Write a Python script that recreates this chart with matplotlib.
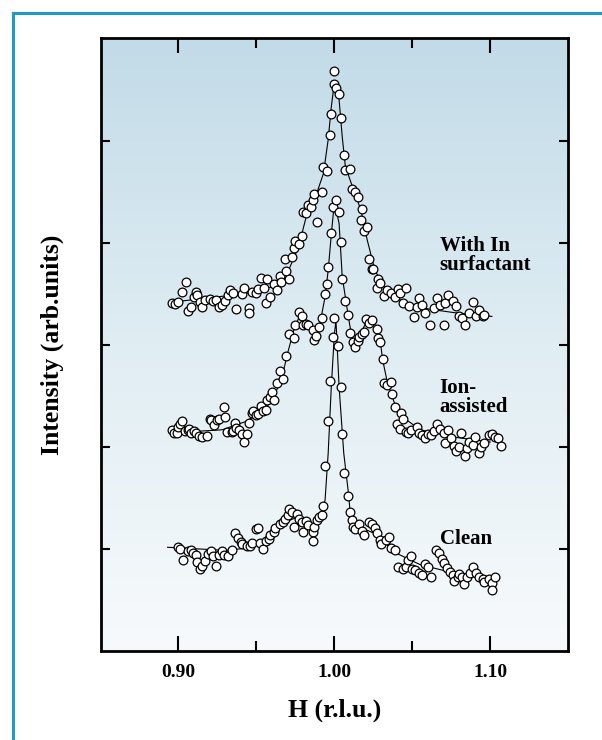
#!/usr/bin/env python
"""X-ray scan across H: open-circle data + fitted line for three growth conditions."""
import matplotlib
matplotlib.use("Agg")
import matplotlib.pyplot as plt
import numpy as np
from matplotlib.colors import LinearSegmentedColormap
from matplotlib.lines import Line2D

# (H, intensity), intensity in tick units (ticks at 1..5)
with_in = [
    (0.896, 3.41), (0.898, 3.40), (0.900, 3.42), (0.902, 3.52), (0.905, 3.62), (0.906, 3.33),
    (0.908, 3.37), (0.910, 3.47), (0.911, 3.52), (0.912, 3.49), (0.914, 3.42), (0.915, 3.37),
    (0.917, 3.44), (0.920, 3.45), (0.922, 3.43), (0.924, 3.44), (0.926, 3.37), (0.928, 3.39),
    (0.930, 3.43), (0.932, 3.49), (0.933, 3.54), (0.935, 3.51), (0.937, 3.35), (0.941, 3.50),
    (0.942, 3.56), (0.945, 3.36), (0.945, 3.31), (0.947, 3.52), (0.950, 3.51), (0.951, 3.55),
    (0.953, 3.66), (0.955, 3.56), (0.956, 3.41), (0.957, 3.65), (0.959, 3.47), (0.961, 3.60),
    (0.963, 3.54), (0.965, 3.68), (0.966, 3.62), (0.968, 3.84), (0.969, 3.72), (0.971, 3.65),
    (0.973, 3.86), (0.974, 3.95), (0.975, 4.02), (0.977, 3.99), (0.979, 4.07), (0.980, 4.30),
    (0.982, 4.29), (0.983, 4.37), (0.985, 4.35), (0.986, 4.42), (0.987, 4.48), (0.989, 4.20),
    (0.992, 4.50), (0.993, 4.74), (0.995, 4.70), (0.997, 5.06), (0.998, 5.26), (1.000, 5.68),
    (1.000, 5.55), (1.001, 5.52), (1.003, 5.46), (1.004, 5.22), (1.006, 4.86), (1.007, 4.71),
    (1.010, 4.72), (1.011, 4.53), (1.013, 4.50), (1.015, 4.45), (1.017, 4.22), (1.018, 4.33),
    (1.019, 4.12), (1.021, 4.15), (1.022, 3.84), (1.024, 3.74), (1.025, 3.74), (1.027, 3.56),
    (1.028, 3.65), (1.029, 3.61), (1.032, 3.48), (1.034, 3.54), (1.036, 3.51), (1.039, 3.47),
    (1.041, 3.55), (1.042, 3.51), (1.044, 3.41), (1.046, 3.56), (1.048, 3.38), (1.051, 3.27),
    (1.053, 3.37), (1.054, 3.46), (1.056, 3.39), (1.058, 3.31), (1.061, 3.20), (1.064, 3.36),
    (1.066, 3.46), (1.068, 3.39), (1.070, 3.20), (1.071, 3.41), (1.073, 3.49), (1.076, 3.43),
    (1.078, 3.38), (1.080, 3.28), (1.082, 3.26), (1.084, 3.20), (1.086, 3.31), (1.089, 3.42),
    (1.091, 3.28), (1.093, 3.34), (1.095, 3.28), (1.096, 3.29),
]
with_in_fit = [
    (0.896, 3.42), (0.930, 3.48), (0.950, 3.52), (0.962, 3.58), (0.970, 3.71), (0.977, 3.96),
    (0.983, 4.32), (0.989, 4.50), (0.993, 4.68), (0.996, 5.01), (0.998, 5.33), (1.000, 5.57),
    (1.003, 5.40), (1.005, 5.04), (1.007, 4.75), (1.012, 4.53), (1.017, 4.32), (1.021, 4.03),
    (1.026, 3.73), (1.033, 3.54), (1.044, 3.42), (1.061, 3.35), (1.080, 3.31), (1.101, 3.28),
]

ion = [
    (0.896, 2.17), (0.897, 2.14), (0.899, 2.14), (0.900, 2.20), (0.901, 2.23), (0.902, 2.26),
    (0.904, 2.16), (0.906, 2.17), (0.907, 2.18), (0.908, 2.14), (0.910, 2.16), (0.911, 2.14),
    (0.913, 2.11), (0.915, 2.10), (0.918, 2.11), (0.920, 2.28), (0.921, 2.27), (0.923, 2.22),
    (0.925, 2.27), (0.926, 2.28), (0.929, 2.39), (0.930, 2.30), (0.931, 2.15), (0.934, 2.15),
    (0.935, 2.16), (0.936, 2.24), (0.937, 2.19), (0.939, 2.17), (0.941, 2.13), (0.942, 2.05),
    (0.944, 2.13), (0.945, 2.24), (0.947, 2.33), (0.948, 2.35), (0.950, 2.31), (0.951, 2.32),
    (0.953, 2.40), (0.954, 2.35), (0.956, 2.36), (0.957, 2.46), (0.959, 2.49), (0.960, 2.54),
    (0.961, 2.46), (0.963, 2.63), (0.965, 2.75), (0.967, 2.67), (0.969, 2.89), (0.971, 3.11),
    (0.974, 3.07), (0.975, 3.20), (0.977, 3.32), (0.979, 3.28), (0.980, 3.20), (0.982, 3.21),
    (0.983, 3.20), (0.986, 3.15), (0.987, 3.05), (0.988, 3.09), (0.990, 3.18), (0.992, 3.26),
    (0.994, 3.50), (0.995, 3.60), (0.996, 3.76), (0.998, 4.10), (0.999, 4.35), (1.001, 4.42),
    (1.003, 4.30), (1.004, 4.01), (1.005, 3.65), (1.007, 3.43), (1.009, 3.29), (1.010, 3.12),
    (1.012, 3.03), (1.013, 2.98), (1.015, 3.04), (1.016, 3.08), (1.018, 3.11), (1.019, 3.13),
    (1.020, 3.25), (1.022, 3.22), (1.024, 3.24), (1.027, 3.16), (1.028, 3.07), (1.029, 3.03),
    (1.031, 2.86), (1.032, 2.63), (1.034, 2.61), (1.036, 2.64), (1.037, 2.52), (1.039, 2.39),
    (1.040, 2.23), (1.042, 2.18), (1.043, 2.33), (1.044, 2.28), (1.046, 2.15), (1.047, 2.14),
    (1.049, 2.17), (1.053, 2.20), (1.054, 2.14), (1.056, 2.12), (1.058, 2.09), (1.060, 2.13),
    (1.062, 2.12), (1.064, 2.16), (1.066, 2.23), (1.068, 2.18), (1.070, 2.14), (1.071, 2.04),
    (1.073, 2.17), (1.075, 2.09), (1.077, 2.01), (1.078, 1.96), (1.080, 2.00), (1.081, 2.14),
    (1.084, 1.91), (1.085, 1.99), (1.086, 2.05), (1.089, 2.02), (1.090, 2.10), (1.093, 1.94),
    (1.094, 2.00), (1.096, 2.04), (1.099, 2.12), (1.101, 2.13), (1.103, 2.10), (1.105, 2.09),
    (1.107, 2.01),
]
ion_fit = [
    (0.896, 2.14), (0.928, 2.17), (0.943, 2.25), (0.954, 2.35), (0.960, 2.46), (0.966, 2.66),
    (0.970, 2.92), (0.974, 3.15), (0.977, 3.26), (0.982, 3.24), (0.986, 3.16), (0.989, 3.13),
    (0.991, 3.23), (0.994, 3.47), (0.996, 3.73), (0.998, 4.08), (1.000, 4.40), (1.003, 4.19),
    (1.005, 3.67), (1.008, 3.37), (1.010, 3.18), (1.012, 3.05), (1.014, 3.05), (1.018, 3.15),
    (1.021, 3.24), (1.025, 3.24), (1.029, 3.08), (1.031, 2.85), (1.034, 2.63), (1.039, 2.41),
    (1.046, 2.27), (1.055, 2.17), (1.076, 2.10), (1.100, 2.05),
]

clean = [
    (0.900, 1.02), (0.901, 1.00), (0.903, 0.90), (0.906, 0.98), (0.908, 0.99), (0.909, 0.96),
    (0.911, 0.94), (0.912, 0.88), (0.914, 0.81), (0.915, 0.84), (0.917, 0.89), (0.919, 0.95),
    (0.921, 0.98), (0.922, 0.93), (0.924, 0.84), (0.926, 0.94), (0.928, 0.98), (0.929, 0.94),
    (0.932, 0.93), (0.934, 0.99), (0.936, 1.16), (0.938, 1.11), (0.940, 1.07), (0.941, 1.05),
    (0.944, 1.03), (0.946, 1.03), (0.947, 1.06), (0.950, 1.20), (0.951, 1.21), (0.952, 1.06),
    (0.954, 1.00), (0.956, 1.08), (0.958, 1.10), (0.959, 1.14), (0.961, 1.17), (0.962, 1.21),
    (0.965, 1.25), (0.967, 1.27), (0.968, 1.30), (0.970, 1.34), (0.971, 1.39), (0.973, 1.37),
    (0.974, 1.22), (0.976, 1.35), (0.977, 1.30), (0.979, 1.27), (0.980, 1.17), (0.982, 1.28),
    (0.983, 1.24), (0.986, 1.17), (0.986, 1.08), (0.987, 1.22), (0.989, 1.29), (0.990, 1.32),
    (0.992, 1.34), (0.993, 1.42), (0.994, 1.82), (0.996, 2.26), (0.997, 2.65), (0.999, 3.08),
    (1.000, 3.26), (1.002, 2.99), (1.004, 2.59), (1.005, 2.13), (1.006, 1.75), (1.009, 1.52),
    (1.010, 1.37), (1.011, 1.29), (1.012, 1.22), (1.013, 1.20), (1.016, 1.25), (1.018, 1.18),
    (1.019, 1.14), (1.022, 1.27), (1.024, 1.25), (1.026, 1.21), (1.027, 1.16), (1.029, 1.09),
    (1.030, 1.05), (1.033, 1.09), (1.035, 1.12), (1.036, 1.01), (1.039, 0.99), (1.041, 0.83),
    (1.044, 0.81), (1.046, 0.83), (1.047, 0.90), (1.049, 0.93), (1.050, 0.81), (1.052, 0.80),
    (1.054, 0.77), (1.056, 0.75), (1.058, 0.86), (1.060, 0.83), (1.062, 0.73), (1.065, 0.99),
    (1.067, 0.96), (1.069, 0.91), (1.070, 0.87), (1.072, 0.82), (1.074, 0.78), (1.076, 0.75),
    (1.077, 0.69), (1.079, 0.73), (1.080, 0.76), (1.082, 0.73), (1.083, 0.66), (1.085, 0.73),
    (1.087, 0.77), (1.089, 0.83), (1.091, 0.77), (1.093, 0.73), (1.095, 0.71), (1.096, 0.68),
    (1.099, 0.71), (1.101, 0.67), (1.101, 0.60), (1.103, 0.73),
]
clean_fit = [
    (0.893, 1.02), (0.930, 0.99), (0.943, 1.01), (0.956, 1.09), (0.969, 1.27), (0.977, 1.32),
    (0.986, 1.25), (0.991, 1.32), (0.994, 1.48), (0.996, 1.94), (0.998, 2.59), (1.000, 3.11),
    (1.001, 3.24), (1.003, 2.59), (1.006, 1.94), (1.009, 1.55), (1.010, 1.38), (1.016, 1.22),
    (1.025, 1.16), (1.040, 0.96), (1.055, 0.85), (1.076, 0.77), (1.106, 0.72),
]

labels = ["With In\nsurfactant", "Ion-\nassisted", "Clean"]
label_pos = [(1.0675, 3.73), (1.0675, 2.34), (1.0675, 1.05)]

x_ticks = [0.90, 1.00, 1.10]
x_minor = [0.95, 1.05]
y_ticks = [1, 2, 3, 4, 5]


def main():
    plt.rcParams["font.family"] = ["Liberation Serif", "DejaVu Serif"]
    plt.rcParams["font.weight"] = "bold"

    fig = plt.figure(figsize=(6.02, 7.40), dpi=100)
    ax = fig.add_axes([0.167, 0.1196, 0.777, 0.8284])
    xlim, ylim = (0.85, 1.15), (0.0, 6.0)

    grad = LinearSegmentedColormap.from_list("bg", ["#f7fafc", "#e0edf3", "#c2dbe8"])
    ax.imshow(np.linspace(0, 1, 256)[:, None], cmap=grad, origin="lower", aspect="auto",
              extent=[xlim[0], xlim[1], ylim[0], ylim[1]], zorder=0)

    for pts, fit in ((with_in, with_in_fit), (ion, ion_fit), (clean, clean_fit)):
        fh, fi = zip(*fit)
        ax.plot(fh, fi, color="black", lw=0.8, zorder=2)
        h, i = zip(*pts)
        ax.plot(h, i, ls="none", marker="o", ms=6.3, mfc="white", mec="black", mew=0.9, zorder=3)

    for text, (x, y) in zip(labels, label_pos):
        ax.text(x, y, text, ha="left", va="baseline", fontsize=15, fontweight="bold",
                linespacing=0.95, zorder=4)

    ax.set_xlim(*xlim)
    ax.set_ylim(*ylim)
    ax.set_xticks(x_ticks)
    ax.set_xticks(x_minor, minor=True)
    ax.set_xticklabels([f"{t:.2f}" for t in x_ticks], fontsize=14, fontweight="bold")
    ax.set_yticks(y_ticks)
    ax.set_yticklabels([])
    ax.tick_params(axis="x", which="major", direction="in", length=11, width=1.5,
                   top=True, pad=9)
    ax.tick_params(axis="x", which="minor", direction="in", length=7.5, width=1.5, top=True)
    ax.tick_params(axis="y", which="major", direction="in", length=6.5, width=1.5, right=True)
    for s in ax.spines.values():
        s.set_linewidth(2.0)

    ax.set_xlabel("H (r.l.u.)", fontsize=18.5, fontweight="bold", labelpad=13)
    ax.set_ylabel("Intensity (arb.units)", fontsize=18.5, fontweight="bold", labelpad=23)

    # teal frame around the figure (open to the right and bottom)
    fc = "#1d9bc0"
    fig.add_artist(Line2D([0.021, 1.0], [0.982, 0.982], color=fc, lw=2.2, transform=fig.transFigure))
    fig.add_artist(Line2D([0.021, 0.021], [0.0, 0.982], color=fc, lw=2.2, transform=fig.transFigure))

    fig.savefig("out.png", dpi=100)
    plt.close(fig)


if __name__ == "__main__":
    main()
